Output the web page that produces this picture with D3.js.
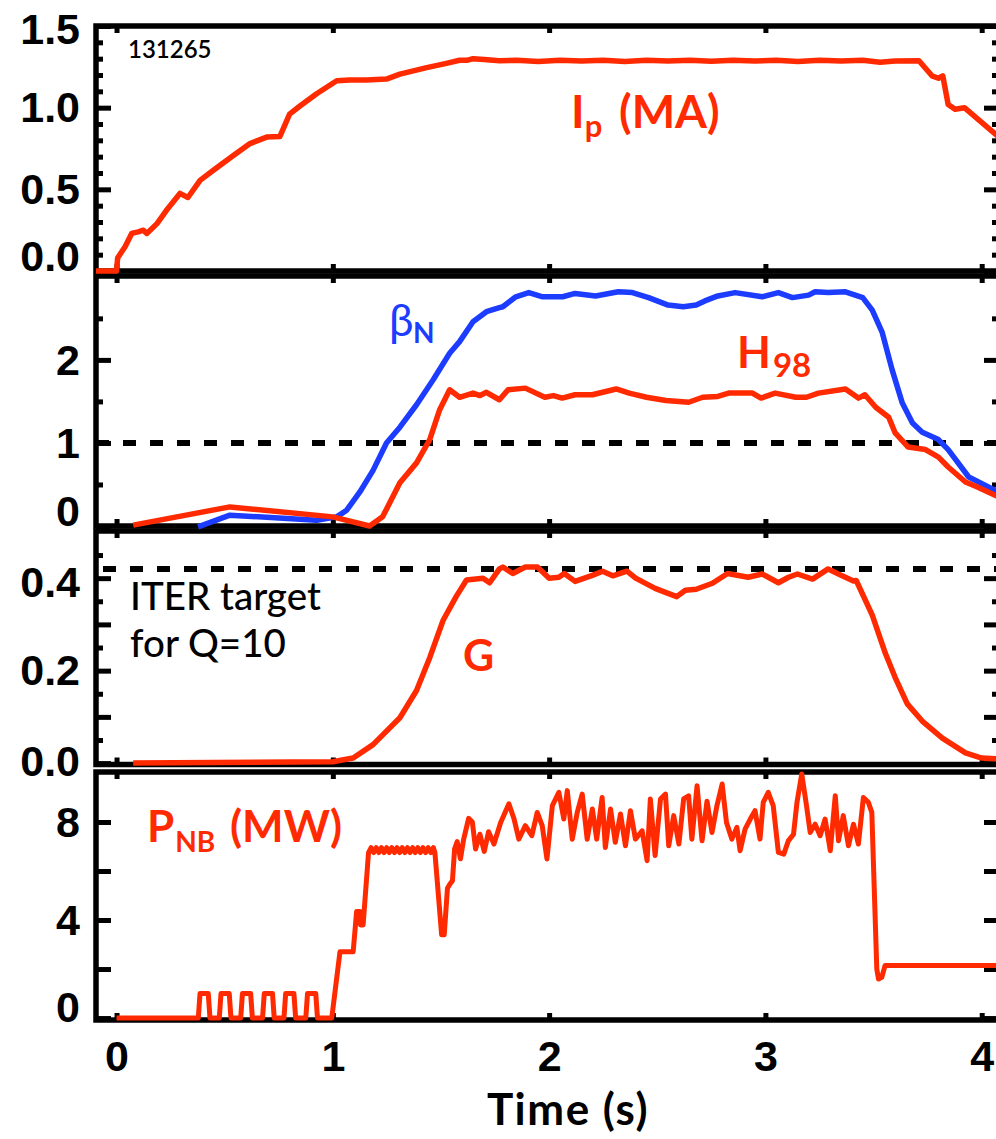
<!DOCTYPE html>
<html>
<head>
<meta charset="utf-8">
<script src="https://cdn.jsdelivr.net/npm/d3@7"></script>
<style>
  body { margin: 0; background: #fff; }
  svg { display: block; font-family: "Lato", "DejaVu Sans", sans-serif; }
</style>
</head>
<body>
<svg id="chart" width="996" height="1139"></svg>
<script>
// ---- Shot 131265: time traces ----
const timeTicks = [0, 1, 2, 3, 4];

// Plasma current Ip (MA)
const ipTime  = [-0.095, 0.0, 0.005, 0.04, 0.07, 0.10, 0.124, 0.14, 0.187, 0.23, 0.293, 0.33, 0.386, 0.446, 0.54, 0.617, 0.694, 0.755, 0.80, 0.848, 0.925, 1.018, 1.078, 1.155, 1.248, 1.31, 1.434, 1.52, 1.586, 1.62, 1.648, 1.70, 1.77, 1.85, 1.95, 2.05, 2.15, 2.25, 2.35, 2.45, 2.55, 2.65, 2.75, 2.85, 2.95, 3.05, 3.15, 3.25, 3.35, 3.45, 3.53, 3.60, 3.71, 3.77, 3.80, 3.82, 3.845, 3.877, 3.92, 4.08];
const ipValue = [0.0, 0.0, 0.08, 0.15, 0.23, 0.24, 0.25, 0.23, 0.29, 0.37, 0.475, 0.45, 0.555, 0.615, 0.707, 0.78, 0.82, 0.823, 0.96, 1.01, 1.085, 1.165, 1.17, 1.17, 1.175, 1.205, 1.245, 1.27, 1.29, 1.29, 1.30, 1.295, 1.287, 1.29, 1.283, 1.29, 1.285, 1.29, 1.283, 1.29, 1.285, 1.29, 1.284, 1.29, 1.285, 1.29, 1.283, 1.29, 1.286, 1.29, 1.278, 1.285, 1.287, 1.195, 1.18, 1.195, 1.02, 0.99, 1.0, 0.82];
const ipTicks = [0, 0.5, 1.0, 1.5];
const ipMinor = [0.1, 0.2, 0.3, 0.4, 0.6, 0.7, 0.8, 0.9, 1.1, 1.2, 1.3, 1.4];

// Normalized beta
const betaTime  = [0.377, 0.524, 0.925, 1.018, 1.064, 1.125, 1.186, 1.248, 1.31, 1.387, 1.464, 1.54, 1.586, 1.648, 1.71, 1.77, 1.786, 1.846, 1.906, 1.97, 2.063, 2.12, 2.215, 2.32, 2.385, 2.46, 2.55, 2.62, 2.68, 2.72, 2.78, 2.86, 2.985, 3.06, 3.125, 3.20, 3.23, 3.29, 3.37, 3.45, 3.494, 3.54, 3.586, 3.633, 3.68, 3.725, 3.80, 3.845, 3.94, 4.062, 4.08];
const betaValue = [-0.01, 0.13, 0.07, 0.11, 0.19, 0.41, 0.67, 1.0, 1.19, 1.46, 1.76, 2.08, 2.22, 2.46, 2.58, 2.63, 2.64, 2.76, 2.81, 2.76, 2.76, 2.80, 2.77, 2.82, 2.81, 2.75, 2.66, 2.64, 2.66, 2.71, 2.77, 2.81, 2.76, 2.81, 2.75, 2.78, 2.82, 2.81, 2.82, 2.75, 2.60, 2.33, 1.88, 1.48, 1.24, 1.13, 1.04, 0.92, 0.59, 0.43, 0.41];

// Confinement factor H98
const h98Time  = [0.077, 0.524, 1.0, 1.17, 1.23, 1.31, 1.387, 1.448, 1.494, 1.54, 1.586, 1.648, 1.68, 1.71, 1.77, 1.81, 1.89, 1.98, 2.02, 2.06, 2.12, 2.20, 2.31, 2.37, 2.45, 2.54, 2.645, 2.71, 2.78, 2.83, 2.94, 2.98, 3.045, 3.14, 3.19, 3.245, 3.37, 3.43, 3.46, 3.51, 3.57, 3.60, 3.66, 3.74, 3.80, 3.845, 3.925, 3.98, 4.062, 4.08];
const h98Value = [0.01, 0.23, 0.11, 0.0, 0.11, 0.52, 0.76, 1.04, 1.40, 1.64, 1.55, 1.60, 1.57, 1.61, 1.52, 1.64, 1.66, 1.55, 1.57, 1.54, 1.58, 1.58, 1.65, 1.60, 1.55, 1.51, 1.49, 1.55, 1.56, 1.60, 1.60, 1.54, 1.60, 1.55, 1.55, 1.60, 1.65, 1.54, 1.58, 1.43, 1.31, 1.12, 0.95, 0.92, 0.83, 0.71, 0.53, 0.47, 0.37, 0.35];
const betaTicks = [0, 1, 2];
const betaMinor = [0.5, 1.5, 2.5];
const h98Reference = 1;

// Fusion gain parameter G
const gTime  = [0.077, 1.0, 1.094, 1.186, 1.31, 1.387, 1.448, 1.51, 1.57, 1.618, 1.694, 1.725, 1.77, 1.786, 1.832, 1.89, 1.946, 2.0, 2.045, 2.07, 2.12, 2.20, 2.247, 2.294, 2.36, 2.40, 2.49, 2.55, 2.59, 2.63, 2.68, 2.755, 2.825, 2.92, 2.985, 3.06, 3.107, 3.148, 3.218, 3.29, 3.355, 3.407, 3.42, 3.494, 3.555, 3.60, 3.656, 3.725, 3.818, 3.925, 4.0, 4.08];
const gValue = [0.0, 0.003, 0.011, 0.04, 0.098, 0.157, 0.228, 0.309, 0.36, 0.396, 0.40, 0.39, 0.42, 0.424, 0.41, 0.424, 0.424, 0.40, 0.402, 0.41, 0.393, 0.406, 0.415, 0.405, 0.415, 0.40, 0.378, 0.367, 0.36, 0.374, 0.376, 0.389, 0.41, 0.402, 0.409, 0.39, 0.402, 0.409, 0.398, 0.42, 0.405, 0.394, 0.395, 0.32, 0.237, 0.185, 0.128, 0.091, 0.054, 0.022, 0.011, 0.009];
const gTicks = [0, 0.2, 0.4];
const gMajor = [0, 0.1, 0.2, 0.3, 0.4];
const gMinor = [0.05, 0.15, 0.25, 0.35, 0.45];
const iterTargetG = 0.42;

// Neutral beam power PNB (MW)
const pnbTime = [0.0, 0.378, 0.386, 0.424, 0.432, 0.475, 0.483, 0.521, 0.529, 0.574, 0.582, 0.620, 0.628, 0.675, 0.683, 0.721, 0.729, 0.774, 0.782, 0.820, 0.828, 0.875, 0.883, 0.921, 0.929, 0.995, 1.033, 1.094, 1.11, 1.125, 1.128, 1.14, 1.165,
  1.177, 1.189, 1.201, 1.213, 1.225, 1.237, 1.249, 1.261, 1.273, 1.285, 1.297, 1.309, 1.321, 1.333, 1.345, 1.357, 1.369, 1.381, 1.393, 1.405, 1.417, 1.429, 1.441, 1.453, 1.465, 1.472,
  1.478, 1.503, 1.515, 1.53, 1.54, 1.553, 1.563, 1.575, 1.59, 1.605, 1.628, 1.645, 1.66, 1.68, 1.70, 1.72, 1.745,
  1.776, 1.814, 1.838, 1.86, 1.89, 1.92, 1.945, 1.968, 1.99, 2.015, 2.045, 2.068, 2.084, 2.107, 2.13, 2.153, 2.176, 2.2, 2.22, 2.245, 2.26, 2.284, 2.306, 2.33, 2.353, 2.376, 2.399, 2.43, 2.453, 2.468, 2.49, 2.515, 2.538, 2.553, 2.576, 2.6, 2.622, 2.645, 2.66, 2.684, 2.707, 2.73, 2.753, 2.776, 2.8, 2.82, 2.845, 2.868, 2.883, 2.906, 2.93, 2.952, 2.975, 2.99, 3.013, 3.036, 3.06, 3.085, 3.106, 3.13, 3.146, 3.168, 3.19, 3.207, 3.23, 3.253, 3.276, 3.3, 3.323, 3.338, 3.36, 3.384, 3.407, 3.43, 3.453, 3.476, 3.492,
  3.515, 3.523, 3.538, 3.553, 4.08];
const pnbValue = [0, 0, 1.0, 1.0, 0, 0, 1.0, 1.0, 0, 0, 1.0, 1.0, 0, 0, 1.0, 1.0, 0, 0, 1.0, 1.0, 0, 0, 1.0, 1.0, 0, 0, 2.7, 2.7, 4.35, 4.35, 3.8, 3.8, 6.75,
  6.95, 6.75, 6.95, 6.75, 6.95, 6.75, 6.95, 6.75, 6.95, 6.75, 6.95, 6.75, 6.95, 6.75, 6.95, 6.75, 6.95, 6.75, 6.95, 6.75, 6.95, 6.75, 6.95, 6.75, 6.95, 6.75,
  6.1, 3.4, 3.4, 5.3, 5.45, 5.6, 6.9, 7.2, 6.5, 7.3, 8.15, 8.0, 6.9, 7.5, 6.8, 7.6, 7.1,
  7.98, 8.74, 8.12, 7.3, 7.85, 7.44, 8.39, 7.85, 6.49, 8.67, 9.21, 8.12, 9.28, 7.3, 8.39, 9.14, 7.3, 8.53, 7.3, 9.0, 6.96, 8.53, 7.17, 8.33, 7.03, 8.46, 7.3, 7.64, 6.42, 8.94, 6.63, 8.94, 9.14, 7.03, 8.26, 7.1, 8.94, 9.07, 7.3, 9.48, 7.23, 8.85, 7.57, 8.67, 9.55, 7.98, 7.3, 7.78, 6.83, 7.71, 8.12, 8.46, 7.3, 8.8, 9.21, 8.67, 6.76, 6.69, 7.23, 7.5, 8.8, 9.96, 8.67, 7.57, 7.91, 7.44, 8.12, 6.83, 9.07, 7.23, 8.26, 7.03, 7.91, 7.1, 9.0, 8.8, 8.39,
  2.0, 1.59, 1.66, 2.14, 2.14];
const pnbTicks = [0, 4, 8];
const pnbMajor = [0, 2, 4, 6, 8];

// ---- Layout ----
const RED = "#ff2a00";
const BLUE = "#1c3cff";
const plotLeft = 96, plotRight = 999;
const frameWidth = 5.5;

const svg = d3.select("#chart");
const x = d3.scaleLinear().domain([-0.095, 4.08]).range([plotLeft, plotRight]);

const panels = [
  { top: 26,  bottom: 271,   domain: [0, 1.5],        major: ipTicks,   minor: ipMinor,   labels: ipTicks,   fmt: d3.format(".1f"), zeroNudge: -15, topNudge: 3 },
  { top: 276, bottom: 526,   domain: [0, 3.01],       major: betaTicks, minor: betaMinor, labels: betaTicks, fmt: d3.format("d"),   zeroNudge: -15, topNudge: 0 },
  { top: 531, bottom: 764.5, domain: [-0.003, 0.502], major: gMajor,    minor: gMinor,    labels: gTicks,    fmt: d3.format(".1f"), zeroNudge: -2,  topNudge: 4 },
  { top: 772, bottom: 1020,  domain: [-0.08, 10.04],  major: pnbMajor,  minor: [],        labels: pnbTicks,  fmt: d3.format("d"),   zeroNudge: -11, topNudge: 0 }
];
panels.forEach(p => { p.y = d3.scaleLinear().domain(p.domain).range([p.bottom, p.top]); });

const axesLayer = svg.append("g");
const refLayer = svg.append("g");
const curveLayer = svg.append("g");
const textLayer = svg.append("g");

function styleAxis(g) {
  g.select(".domain").remove();
  g.selectAll(".tick line").attr("stroke", "#000").attr("stroke-width", 5);
  g.selectAll(".tick text")
    .attr("fill", "#000")
    .style("font-size", "43px")
    .style("font-weight", 900);
}

const isLabel = (list, d) => list.some(v => Math.abs(v - d) < 1e-9);

panels.forEach((p, i) => {
  const g = axesLayer.append("g");
  // left axis: major ticks with labels, then minor ticks
  g.append("g").attr("transform", `translate(${plotLeft},0)`)
    .call(d3.axisLeft(p.y).tickValues(p.major).tickSize(-15).tickSizeOuter(0).tickPadding(16)
      .tickFormat(d => isLabel(p.labels, d) ? p.fmt(d) : ""))
    .call(styleAxis)
    .call(a => a.selectAll(".tick text").attr("dy", d => {
      if (Math.abs(d - p.labels[0]) < 1e-9) return (0.33 * 43 + p.zeroNudge) + "px";
      if (Math.abs(d - p.labels[p.labels.length - 1]) < 1e-9) return (0.33 * 43 + p.topNudge) + "px";
      return "0.33em";
    }));
  if (p.minor.length) {
    g.append("g").attr("transform", `translate(${plotLeft},0)`)
      .call(d3.axisLeft(p.y).tickValues(p.minor).tickSize(-7).tickSizeOuter(0).tickFormat(""))
      .call(styleAxis);
  }
  // right axis mirrors the ticks
  g.append("g").attr("transform", `translate(${plotRight},0)`)
    .call(d3.axisRight(p.y).tickValues(p.major).tickSize(-15).tickSizeOuter(0).tickFormat(""))
    .call(styleAxis);
  if (p.minor.length) {
    g.append("g").attr("transform", `translate(${plotRight},0)`)
      .call(d3.axisRight(p.y).tickValues(p.minor).tickSize(-7).tickSizeOuter(0).tickFormat(""))
      .call(styleAxis);
  }
  // top and bottom time ticks
  g.append("g").attr("transform", `translate(0,${p.top})`)
    .call(d3.axisTop(x).tickValues(timeTicks).tickSize(-7).tickSizeOuter(0).tickFormat(""))
    .call(styleAxis);
  const bottomAxis = d3.axisBottom(x).tickValues(timeTicks).tickSize(-7).tickSizeOuter(0);
  if (i === panels.length - 1) bottomAxis.tickPadding(20).tickFormat(d3.format("d"));
  else bottomAxis.tickFormat("");
  g.append("g").attr("transform", `translate(0,${p.bottom})`)
    .call(bottomAxis)
    .call(styleAxis);
  // frame
  g.append("rect")
    .attr("x", plotLeft).attr("y", p.top)
    .attr("width", plotRight - plotLeft).attr("height", p.bottom - p.top)
    .attr("fill", "none").attr("stroke", "#000").attr("stroke-width", frameWidth);
});

// dashed reference lines
function refLine(p, value, offset) {
  refLayer.append("line")
    .attr("x1", plotLeft).attr("x2", plotRight)
    .attr("y1", p.y(value)).attr("y2", p.y(value))
    .attr("stroke", "#000").attr("stroke-width", 6)
    .attr("stroke-dasharray", "13,14").attr("stroke-dashoffset", offset);
}
refLine(panels[1], h98Reference, 0);
refLine(panels[2], iterTargetG, -7);

// curves
function curve(p, times, values, color, width) {
  const line = d3.line().x(d => x(d[0])).y(d => p.y(d[1]));
  curveLayer.append("path")
    .datum(d3.zip(times, values))
    .attr("d", line)
    .attr("fill", "none")
    .attr("stroke", color)
    .attr("stroke-width", width)
    .attr("stroke-linejoin", "round")
    .attr("stroke-linecap", "butt");
}
curve(panels[0], ipTime, ipValue, RED, 5.5);
curve(panels[1], betaTime, betaValue, BLUE, 5.5);
curve(panels[1], h98Time, h98Value, RED, 5.5);
curve(panels[2], gTime, gValue, RED, 5.5);
curve(panels[3], pnbTime, pnbValue, RED, 5);

// text annotations
textLayer.append("text").attr("x", 128).attr("y", 58)
  .style("font-size", "24px").style("font-weight", 600).attr("fill", "#000")
  .text("131265");

const ipLabel = textLayer.append("text").attr("x", 571).attr("y", 128)
  .attr("fill", RED).style("font-weight", 700).style("font-size", "46px");
ipLabel.append("tspan").text("I");
ipLabel.append("tspan").attr("dy", 9).style("font-size", "31px").text("p");
ipLabel.append("tspan").attr("dy", -9).attr("x", 619).text("(MA)");

const betaLabel = textLayer.append("text").attr("x", 389).attr("y", 336).attr("fill", BLUE);
betaLabel.append("tspan").style("font-size", "44px").style("font-weight", 400).text("β");
betaLabel.append("tspan").attr("x", 413).attr("dy", 7).style("font-size", "28px").style("font-weight", 700).text("N");

const hLabel = textLayer.append("text").attr("x", 737).attr("y", 368).attr("fill", RED).style("font-weight", 700);
hLabel.append("tspan").style("font-size", "44px").text("H");
hLabel.append("tspan").attr("dx", 2).attr("dy", 9).style("font-size", "33px").text("98");

const iterLabel = textLayer.append("text").attr("fill", "#000").style("font-size", "38.5px").style("font-weight", 500);
iterLabel.append("tspan").attr("x", 130).attr("y", 610).text("ITER target");
iterLabel.append("tspan").attr("x", 130).attr("y", 657).text("for Q=10");

textLayer.append("text").attr("x", 463).attr("y", 671)
  .attr("fill", RED).style("font-size", "43px").style("font-weight", 700).text("G");

const pLabel = textLayer.append("text").attr("x", 147).attr("y", 842).attr("fill", RED).style("font-weight", 700);
pLabel.append("tspan").style("font-size", "44px").text("P");
pLabel.append("tspan").attr("dx", 1).attr("dy", 10).style("font-size", "28px").text("NB");
pLabel.append("tspan").attr("x", 230).attr("dy", -10).style("font-size", "44px").text("(MW)");

textLayer.append("text").attr("x", 568).attr("y", 1125)
  .attr("text-anchor", "middle").attr("fill", "#000")
  .style("font-size", "44px").style("font-weight", 700).style("letter-spacing", "1.5px")
  .text("Time (s)");
</script>
</body>
</html>
